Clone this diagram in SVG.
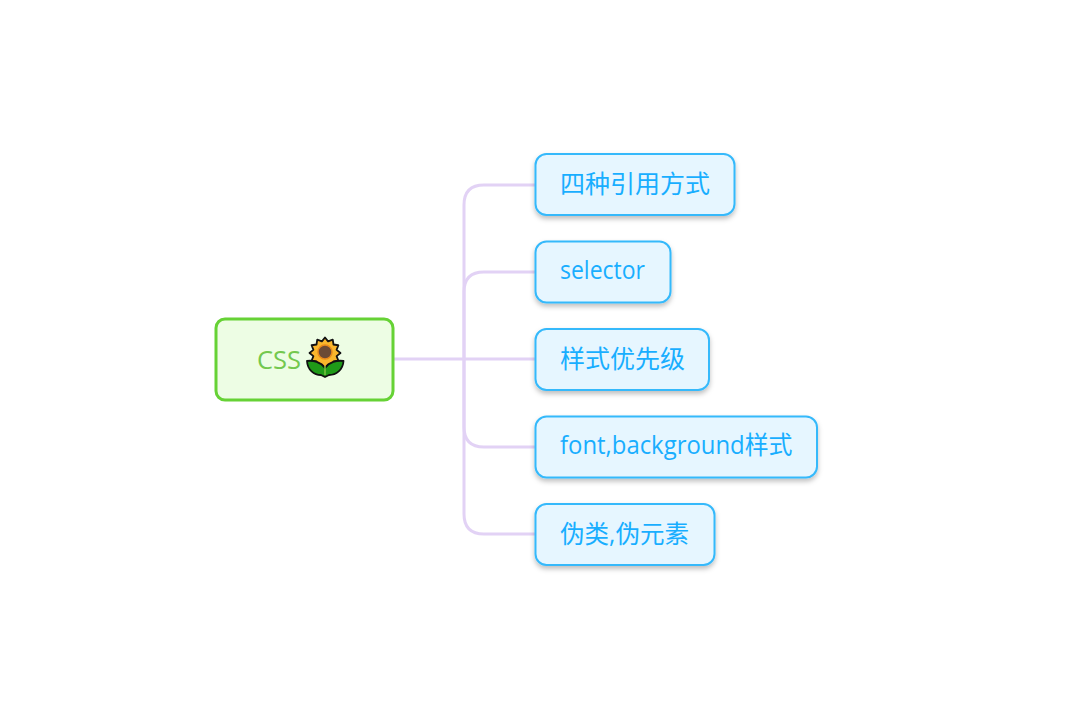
<svg xmlns="http://www.w3.org/2000/svg" width="1085" height="713" viewBox="0 0 1085 713">
<defs>
<filter id="sh" x="-10%" y="-20%" width="120%" height="150%"><feDropShadow dx="0" dy="3" stdDeviation="2.5" flood-color="#000" flood-opacity="0.25"/></filter>
</defs>
<style>
.n{fill:#e6f6ff;stroke:#35b9fb;stroke-width:2;filter:url(#sh)}
.t{fill:#18aeff;font-family:"Open Sans","Noto Sans CJK SC",sans-serif;font-size:25px}
.c{fill:none;stroke:#e2d2f5;stroke-width:3}
</style>
<rect width="1085" height="713" fill="#fff"/>
<g id="connectors">
<path class="c" d="M394 359H535"/>
<path class="c" d="M464 359V205Q464 185 484 185H535"/>
<path class="c" d="M464 359V292Q464 272 484 272H535"/>
<path class="c" d="M464 359V427Q464 447 484 447H535"/>
<path class="c" d="M464 359V514Q464 534 484 534H535"/>
</g>
<g id="root">
<rect x="216" y="319" width="177" height="81" rx="9" fill="#edfde4" stroke="#66d235" stroke-width="3"/>
<text x="257" y="369" font-family="'Open Sans',sans-serif" font-size="25" fill="#73c84e" textLength="44" lengthAdjust="spacingAndGlyphs">CSS</text>
<g id="sunflower">
<polygon points="340.500,353 336.600,349.900 338.400,345.250 333.500,344.500 332.750,339.600 328.100,341.400 325,337.500 321.900,341.400 317.250,339.600 316.500,344.500 311.600,345.250 313.400,349.900 309.500,353 313.400,356.100 311.600,360.750 316.500,361.500 317.250,366.400 321.900,364.600 325,368.500 328.100,364.600 332.750,366.400 333.500,361.500 338.400,360.750 336.600,356.100" fill="#f9b62c" stroke="#111" stroke-width="1.8" stroke-linejoin="round"/>
<circle cx="325" cy="352" r="7" fill="#6b4a35" stroke="#e98a1c" stroke-width="1.5"/>
<path d="M307 361C313 360 321 362 325 368C329 362 337 360 343.500 361C343 370 336 375 329 375L325 377L321 375C314 375 307.500 370 307 361z" fill="#1f9a18" stroke="#111" stroke-width="1.8" stroke-linejoin="round"/>
<path d="M325 366V375" stroke="#7cc142" stroke-width="1.5"/>
</g>
</g>
<g id="n1"><rect class="n" x="535.500" y="154" width="199" height="61" rx="11"/><text class="t" x="560" y="193">四种引用方式</text></g>
<g id="n2"><rect class="n" x="535.500" y="241.500" width="135" height="61" rx="11"/><text class="t" x="560" y="279" textLength="85" lengthAdjust="spacingAndGlyphs">selector</text></g>
<g id="n3"><rect class="n" x="535.500" y="329" width="173.500" height="61" rx="11"/><text class="t" x="560" y="368">样式优先级</text></g>
<g id="n4"><rect class="n" x="535.500" y="416.500" width="281.500" height="61" rx="11"/><text class="t" x="560" y="454" textLength="232.500" lengthAdjust="spacingAndGlyphs">font,background样式</text></g>
<g id="n5"><rect class="n" x="535.500" y="504" width="179" height="61" rx="11"/><text class="t" x="560" y="543" textLength="129" lengthAdjust="spacingAndGlyphs">伪类,伪元素</text></g>
</svg>
